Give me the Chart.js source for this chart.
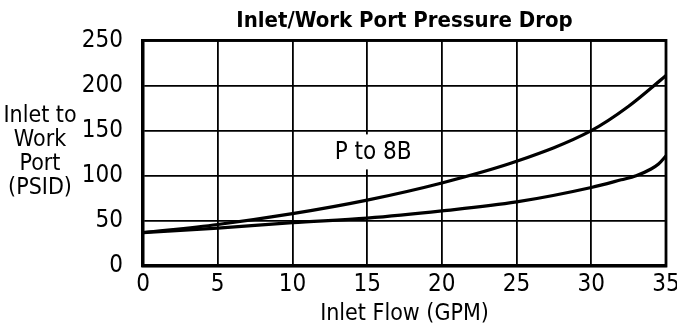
<!DOCTYPE html>
<html>
<head>
<meta charset="utf-8">
<title>Inlet/Work Port Pressure Drop</title>
<script src="https://cdn.jsdelivr.net/npm/chart.js@4.4.1/dist/chart.umd.min.js"></script>
<style>
  html, body { margin: 0; padding: 0; background: #fff; }
  #wrap { width: 677px; height: 333px; position: relative; }
</style>
</head>
<body>
<div id="wrap"><canvas id="dropChart" width="677" height="333"></canvas></div>
<script>
// flow (GPM) vs pressure drop (PSID), read per curve
const flowUpper = [0, 5, 10, 15, 20, 25, 30, 32.5, 35];
const dropUpper = [37, 46, 58, 73, 92, 116, 150, 177, 211];
const flowLower = [0, 5, 10, 15, 20, 25, 30, 32, 33, 34, 34.5, 35];
const dropLower = [37, 42, 48, 53, 61, 71, 87, 95.5, 100, 107.5, 113, 122];

const xTicks = [0, 5, 10, 15, 20, 25, 30, 35];
const yTicks = [0, 50, 100, 150, 200, 250];

const curveLabel = { text: 'P to 8B', x: 15.4, y: 127 };
const yTitleLines = ['Inlet to', 'Work', 'Port', '(PSID)'];

const FONT = "'Liberation Sans Narrow', 'DejaVu Sans Condensed', 'Arial Narrow', sans-serif";

const toPoints = (xs, ys) => xs.map((x, i) => ({ x: x, y: ys[i] }));

// frame around the plot, the boxed curve label and the horizontal y title
const extras = {
  id: 'extras',
  afterDatasetsDraw(chart) {
    const { ctx, chartArea: a, scales } = chart;
    ctx.save();
    ctx.strokeStyle = '#000';
    ctx.lineWidth = 2.8;
    ctx.strokeRect(a.left, a.top, a.right - a.left, a.bottom - a.top);

    ctx.font = '24px ' + FONT;
    ctx.textAlign = 'center';
    ctx.textBaseline = 'middle';
    const lx = scales.x.getPixelForValue(curveLabel.x);
    const ly = scales.y.getPixelForValue(curveLabel.y);
    const w = ctx.measureText(curveLabel.text).width;
    ctx.fillStyle = '#fff';
    ctx.fillRect(lx - w / 2 - 4, ly - 17, w + 8, 35);
    ctx.fillStyle = '#000';
    ctx.fillText(curveLabel.text, lx, ly + 1);

    ctx.font = '23px ' + FONT;
    yTitleLines.forEach((t, i) => ctx.fillText(t, 40, 116 + i * 24));
    ctx.restore();
  }
};

new Chart(document.getElementById('dropChart'), {
  type: 'line',
  data: {
    datasets: [{
      label: 'upper',
      data: toPoints(flowUpper, dropUpper),
      borderColor: '#000',
      borderWidth: 3.2,
      pointRadius: 0,
      cubicInterpolationMode: 'monotone',
      fill: false
    }, {
      label: 'P to 8B',
      data: toPoints(flowLower, dropLower),
      borderColor: '#000',
      borderWidth: 3.2,
      pointRadius: 0,
      cubicInterpolationMode: 'monotone',
      fill: false
    }]
  },
  options: {
    responsive: false,
    animation: false,
    devicePixelRatio: 1,
    layout: { padding: { left: 0, right: 11, top: 0, bottom: 0 } },
    scales: {
      x: {
        type: 'linear',
        min: 0,
        max: 35,
        afterBuildTicks: (s) => { s.ticks = xTicks.map(v => ({ value: v })); },
        afterFit: (s) => { s.height = 67; s.paddingLeft = 0; s.paddingRight = 0; },
        ticks: { color: '#000', font: { family: FONT, size: 24 }, padding: 4, maxRotation: 0 },
        grid: { color: '#000', lineWidth: 1.8, drawTicks: false },
        border: { color: '#000', width: 3.2 },
        title: {
          display: true,
          text: 'Inlet Flow (GPM)',
          color: '#000',
          font: { family: FONT, size: 23 },
          padding: { top: 0, bottom: 5 }
        }
      },
      y: {
        min: 0,
        max: 250,
        afterBuildTicks: (s) => { s.ticks = yTicks.map(v => ({ value: v })); },
        afterFit: (s) => { s.width = 143; s.paddingTop = 0; s.paddingBottom = 0; },
        ticks: { color: '#000', font: { family: FONT, size: 24 }, padding: 20 },
        grid: { color: '#000', lineWidth: 1.8, drawTicks: false },
        border: { color: '#000', width: 3.2 }
      }
    },
    plugins: {
      legend: { display: false },
      tooltip: { enabled: false },
      title: {
        display: true,
        fullSize: false,
        text: 'Inlet/Work Port Pressure Drop',
        color: '#000',
        font: { family: FONT, size: 22, weight: 'bold' },
        padding: { top: 8, bottom: 6 }
      }
    }
  },
  plugins: [extras]
});
</script>
</body>
</html>
